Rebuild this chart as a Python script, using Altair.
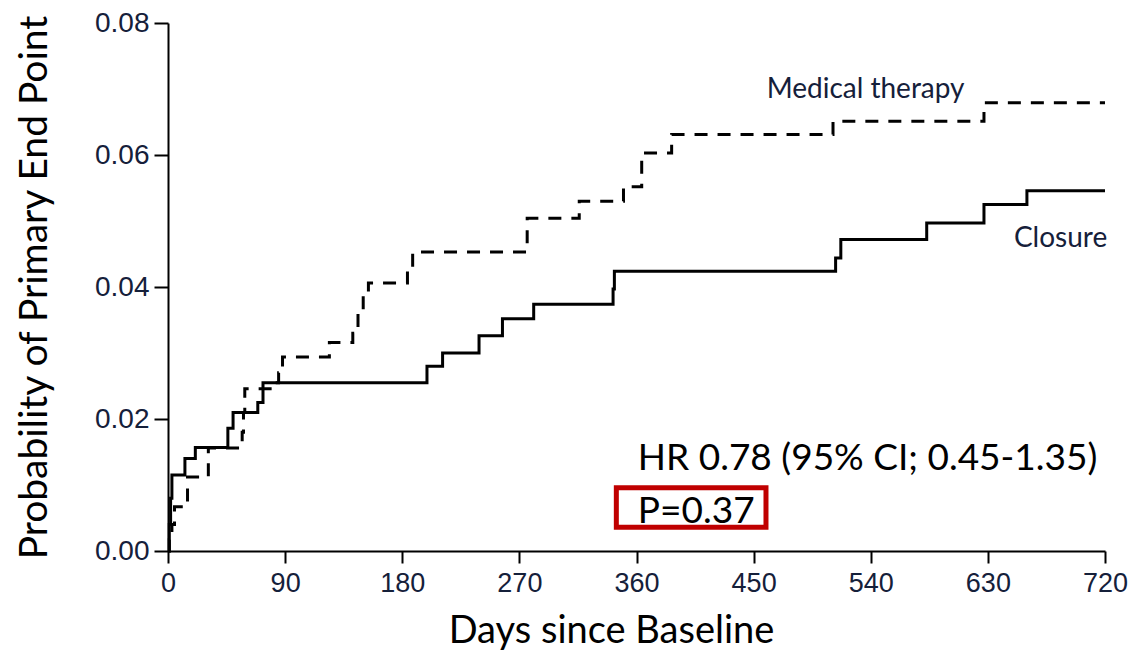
import altair as alt
import pandas as pd

# ---- data (Kaplan-Meier style step curves) ----
closure_days = [0, 1, 2, 3, 13, 21, 46, 50, 69, 73, 199, 211, 239, 257, 281,
                342, 343, 513, 517, 583, 627, 660, 720]
closure_prob = [0.0, 0.004, 0.008, 0.0115, 0.014, 0.0157, 0.0186, 0.021, 0.0225,
                0.0255, 0.028, 0.030, 0.0326, 0.0352, 0.0374, 0.0397, 0.0424,
                0.0444, 0.0472, 0.0497, 0.0525, 0.0546, 0.0546]

medical_days = [0, 1, 3, 5, 15, 31, 57, 58, 59, 80, 85, 88, 124, 142, 146, 150,
                154, 184, 188, 276, 316, 350, 364, 387, 511, 627, 720]
medical_prob = [0.0, 0.0017, 0.004, 0.0067, 0.0112, 0.0156, 0.018, 0.021, 0.0246,
                0.0255, 0.027, 0.0294, 0.0316, 0.033, 0.036, 0.039, 0.0406,
                0.0429, 0.0453, 0.0504, 0.053, 0.0552, 0.0603, 0.0631, 0.0651,
                0.0679, 0.0679]

x_ticks = [0, 90, 180, 270, 360, 450, 540, 630, 720]
y_ticks = [0.0, 0.02, 0.04, 0.06, 0.08]

series_labels = ["Medical therapy", "Closure"]
series_label_day = [460, 650]
series_label_prob = [0.0687, 0.0461]

stat_texts = ["HR 0.78 (95% CI; 0.45-1.35)", "P=0.37"]
stat_day = [361, 361]
stat_prob = [0.0122, 0.0043]

box_day = [344.5, 459.5]
box_prob = [0.0036, 0.0096]

# ---- tables ----
closure_df = pd.DataFrame({"day": closure_days, "prob": closure_prob})
medical_df = pd.DataFrame({"day": medical_days, "prob": medical_prob})
label_df = pd.DataFrame({"day": series_label_day, "prob": series_label_prob,
                         "label": series_labels})
stat_df = pd.DataFrame({"day": stat_day, "prob": stat_prob, "label": stat_texts})
box_df = pd.DataFrame({"day": [box_day[0]], "day2": [box_day[1]],
                       "prob": [box_prob[0]], "prob2": [box_prob[1]]})

INK = "#000000"
LABEL_INK = "#15203a"
SANS = "'Liberation Sans', Arial, Helvetica, sans-serif"

x_scale = alt.Scale(domain=[0, 720], nice=False, zero=False)
y_scale = alt.Scale(domain=[0, 0.08], nice=False, zero=True)

x_axis = alt.Axis(
    values=x_ticks, title="Days since Baseline", grid=False,
    domainColor=INK, domainWidth=2, tickColor=INK, tickWidth=2, tickSize=12,
    labelFont=SANS, labelFontSize=27, labelColor=LABEL_INK,
    labelPadding=7, labelFlush=False,
    titleFont="Lato", titleFontSize=38, titleFontWeight="normal", titleColor=INK,
    titleX=443, titleY=91, titleAlign="center", titleBaseline="alphabetic",
)
y_axis = alt.Axis(
    values=y_ticks, format=".2f", title="Probability of Primary End Point",
    grid=False, domainColor=INK, domainWidth=2, tickColor=INK, tickWidth=2,
    tickSize=14, labelFont=SANS, labelFontSize=28,
    labelColor=LABEL_INK, labelPadding=5, labelFlush=False,
    titleFont="Lato", titleFontSize=39, titleFontWeight="normal", titleColor=INK,
    titleAngle=270, titleX=-122, titleY=264, titleAlign="center",
    titleBaseline="alphabetic",
)

X = alt.X("day:Q", scale=x_scale, axis=x_axis)
Y = alt.Y("prob:Q", scale=y_scale, axis=y_axis)

closure_line = alt.Chart(closure_df).mark_line(
    interpolate="step-after", color=INK, strokeWidth=3
).encode(x=X, y=Y)

medical_line = alt.Chart(medical_df).mark_line(
    interpolate="step-after", color=INK, strokeWidth=3, strokeDash=[13, 10]
).encode(x=X, y=Y)

box = alt.Chart(box_df).mark_rect(
    fillOpacity=0, stroke="#c00000", strokeWidth=5
).encode(x=X, x2="day2:Q", y=Y, y2="prob2:Q")

series_text = alt.Chart(label_df).mark_text(
    align="left", baseline="alphabetic", font="Lato", fontSize=28,
    color=LABEL_INK
).encode(x=X, y=Y, text="label:N")

stat_text = alt.Chart(stat_df).mark_text(
    align="left", baseline="alphabetic", font="Lato", fontSize=37, color=INK
).encode(x=X, y=Y, text="label:N")

chart = alt.layer(closure_line, medical_line, box, series_text, stat_text).properties(
    width=937, height=528,
    padding={"left": 160, "top": 15, "right": 24, "bottom": 99},
    autosize=alt.AutoSizeParams(type="none"),
    background="white",
).configure_view(stroke=None)

chart.save("out.html", embed_options={"renderer": "svg", "actions": False})
